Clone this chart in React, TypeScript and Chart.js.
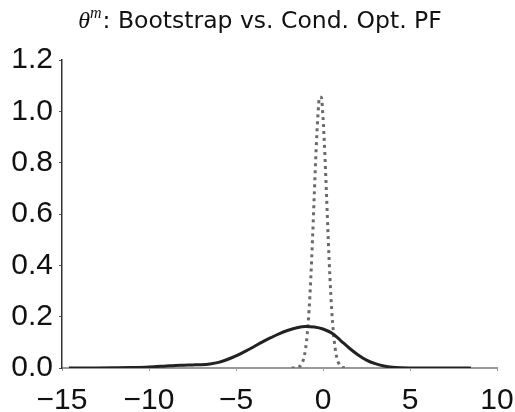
import { useEffect, useRef } from "react";
import { Chart, registerables } from "chart.js";

Chart.register(...registerables);

const titleSymbol = "θ";
const titleSup = "m";
const titleText = ": Bootstrap vs. Cond. Opt. PF";

// Bootstrap PF density (solid dark line)
const bootstrapX = [
  -14.6, -13, -12, -11, -10, -9, -8.5, -8, -7.5, -7, -6.5, -6, -5.5, -5, -4.5,
  -4, -3.5, -3, -2.5, -2, -1.5, -1, -0.5, 0, 0.5, 1, 1.5, 2, 2.5, 3, 3.5, 4,
  4.5, 5, 6, 7, 8.5,
];
const bootstrapY = [
  0, 0.0003, 0.001, 0.002, 0.004, 0.008, 0.01, 0.011, 0.012, 0.013, 0.016,
  0.022, 0.033, 0.047, 0.064, 0.082, 0.101, 0.118, 0.134, 0.147, 0.157, 0.162,
  0.16, 0.152, 0.136, 0.108, 0.078, 0.052, 0.031, 0.017, 0.008, 0.003, 0.001,
  0.0003, 0, 0, 0,
];

// Conditionally optimal PF density (dotted grey line)
const condOptX = [
  -1.8, -1.7, -1.6, -1.5, -1.4, -1.3, -1.2, -1.1, -1.0, -0.9, -0.8, -0.7, -0.6,
  -0.5, -0.4, -0.3, -0.2, -0.1, 0.0, 0.1, 0.2, 0.3, 0.4, 0.5, 0.6, 0.7, 0.8,
  0.9, 1.0, 1.1, 1.2, 1.3, 1.4, 1.5,
];
const condOptY = [
  0, 0.0002, 0.0005, 0.0014, 0.0035, 0.0085, 0.019, 0.039, 0.076, 0.136, 0.226,
  0.351, 0.506, 0.678, 0.844, 0.976, 1.055, 1.055, 0.976, 0.844, 0.678, 0.506,
  0.351, 0.226, 0.136, 0.076, 0.039, 0.019, 0.0085, 0.0035, 0.0014, 0.0005,
  0.0002, 0,
];

const xMin = -15;
const xMax = 10;
const xStep = 5;
const yMin = 0;
const yMax = 1.2;
const yStep = 0.2;

const titlePlugin = {
  id: "mathTitle",
  afterDraw(chart: any) {
    const ctx = chart.ctx;
    ctx.save();
    const fSym = "italic 24px 'Liberation Serif'";
    const fSup = "italic 16px 'Liberation Serif'";
    const fTxt = "23.5px 'DejaVu Sans'";
    ctx.font = fSym;
    const w1 = ctx.measureText(titleSymbol).width;
    ctx.font = fSup;
    const w2 = ctx.measureText(titleSup).width;
    ctx.font = fTxt;
    const w3 = ctx.measureText(titleText).width;
    const total = w1 + w2 + 1 + w3;
    let x = 260 - total / 2;
    const base = 28;
    ctx.fillStyle = "#111";
    ctx.textBaseline = "alphabetic";
    ctx.textAlign = "left";
    ctx.font = fSym;
    ctx.fillText(titleSymbol, x, base);
    x += w1;
    ctx.font = fSup;
    ctx.fillText(titleSup, x, base - 10);
    x += w2 + 1;
    ctx.font = fTxt;
    ctx.fillText(titleText, x, base);
    ctx.restore();
  },
};

export default function App() {
  const ref = useRef<HTMLCanvasElement | null>(null);
  useEffect(() => {
    if (!ref.current) return;
    const chart = new Chart(ref.current, {
      type: "line",
      data: {
        datasets: [
          {
            label: "Bootstrap",
            data: bootstrapX.map((x, i) => ({ x, y: bootstrapY[i] })),
            borderColor: "#222",
            borderWidth: 3,
            pointRadius: 0,
            cubicInterpolationMode: "monotone",
            fill: false,
          },
          {
            label: "Cond. Opt. PF",
            data: condOptX.map((x, i) => ({ x, y: condOptY[i] })),
            borderColor: "#6a6a6a",
            borderWidth: 3,
            borderDash: [3, 4],
            pointRadius: 0,
            cubicInterpolationMode: "monotone",
            fill: false,
          },
        ],
      },
      options: {
        animation: false,
        responsive: false,
        layout: { padding: { top: 60, right: 18, left: 0, bottom: 0 } },
        plugins: {
          legend: { display: false },
          tooltip: { enabled: false },
          title: { display: false },
        },
        scales: {
          x: {
            type: "linear",
            min: xMin,
            max: xMax,
            ticks: {
              stepSize: xStep,
              color: "#111",
              font: { family: "'Liberation Sans'", size: 30 },
              padding: 12,
              maxRotation: 0,
              callback: (v: any) =>
                v < 0 ? "\u2212" + Math.abs(v) : String(v),
            },
            grid: {
              display: true,
              drawOnChartArea: false,
              tickLength: 3,
              color: "#999",
            },
            border: { display: true, color: "#999", width: 2 },
            afterFit: (s: any) => {
              s.height = 44;
              s.paddingLeft = 0;
              s.paddingRight = 0;
            },
          },
          y: {
            type: "linear",
            min: yMin,
            max: yMax,
            ticks: {
              stepSize: yStep,
              color: "#111",
              font: { family: "'Liberation Sans'", size: 30 },
              padding: 6,
              callback: (v: any) => Number(v).toFixed(1),
            },
            grid: {
              display: true,
              drawOnChartArea: false,
              tickLength: 3,
              color: "#555",
            },
            border: { display: true, color: "#333", width: 1.5 },
            afterFit: (s: any) => {
              s.width = 62;
              s.paddingTop = 0;
              s.paddingBottom = 0;
            },
          },
        },
      },
      plugins: [titlePlugin],
    });
    return () => chart.destroy();
  }, []);
  return (
    <div
      style={{
        position: "fixed",
        left: 0,
        top: 0,
        width: 515,
        height: 412,
        background: "#fff",
      }}
    >
      <canvas
        ref={ref}
        width={515}
        height={412}
        style={{ display: "block", width: 515, height: 412 }}
      />
    </div>
  );
}
